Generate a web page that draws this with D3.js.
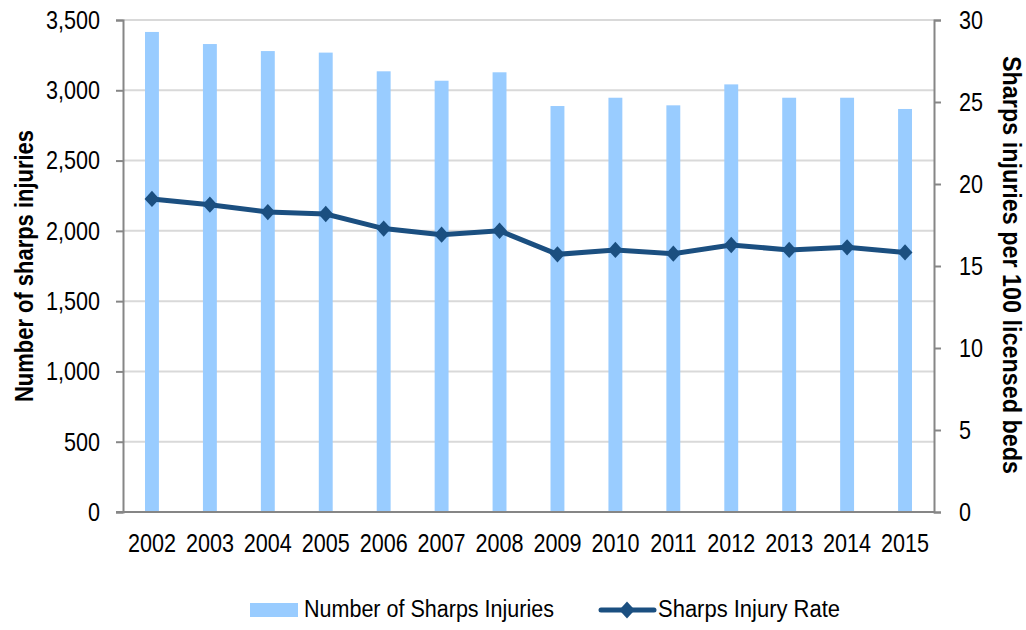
<!DOCTYPE html>
<html><head><meta charset="utf-8">
<script src="https://cdn.jsdelivr.net/npm/d3@7"></script>
<style>
body{margin:0;background:#fff;}
text{font-family:"Liberation Sans",Arial,sans-serif;fill:#000;}
</style></head><body>
<svg id="c" width="1026" height="630"></svg>
<script>
const years = ["2002","2003","2004","2005","2006","2007","2008","2009","2010","2011","2012","2013","2014","2015"];
const injuries = [3415,3329,3279,3268,3135,3068,3128,2888,2947,2893,3042,2947,2947,2867];
const rates = [19.09,18.74,18.29,18.17,17.28,16.91,17.15,15.71,15.98,15.75,16.28,15.98,16.14,15.83];
const leftTicks = [0,500,1000,1500,2000,2500,3000,3500];
const rightTicks = [0,5,10,15,20,25,30];

const svg = d3.select("#c");
const L = 123, R = 934, T = 20, B = 512;
const K = 0.83; // horizontal condensing to mimic a narrow face
const x = d3.scaleBand().domain(years).range([L, R]).paddingInner(0.76).paddingOuter(0.38);
const yL = d3.scaleLinear().domain([0,3500]).range([B,T]);
const yR = d3.scaleLinear().domain([0,30]).range([B,T]);

function condense(sel, k) {
  sel.each(function(){
    const t = d3.select(this);
    const xv = +t.attr("x") || 0;
    t.attr("x", xv / k).attr("transform", `scale(${k},1)`);
  });
}

// gridlines
svg.append("g").selectAll("line").data(leftTicks.slice(1)).join("line")
  .attr("x1",L).attr("x2",R).attr("y1",d=>yL(d)).attr("y2",d=>yL(d))
  .attr("stroke","#d9d9d9").attr("stroke-width",2);

// bars
svg.append("g").selectAll("rect").data(years).join("rect")
  .attr("x",d=>x(d)).attr("width",x.bandwidth())
  .attr("y",(d,i)=>yL(injuries[i])).attr("height",(d,i)=>B-yL(injuries[i]))
  .attr("fill","#99ccff");

// axes
const axL = svg.append("g").attr("transform",`translate(${L},0)`)
  .call(d3.axisLeft(yL).tickValues(leftTicks).tickFormat(d3.format(",")).tickSize(7).tickPadding(16));
const axR = svg.append("g").attr("transform",`translate(${R},0)`)
  .call(d3.axisRight(yR).tickValues(rightTicks).tickSize(7).tickPadding(18));
const axX = svg.append("g").attr("transform",`translate(0,${B})`)
  .call(d3.axisBottom(x).tickSize(0).tickPadding(22));
[axL,axR,axX].forEach(a=>{
  a.select(".domain").attr("stroke","#868686").attr("stroke-width",2);
  a.selectAll(".tick line").attr("stroke","#868686").attr("stroke-width",2);
  a.selectAll("text").style("font-size","26px").attr("fill","#000");
});
axX.select(".domain").attr("d",`M${L-7},0H${R}`);
condense(axL.selectAll(".tick text"), K);
condense(axR.selectAll(".tick text"), K);
axX.selectAll(".tick text").each(function(){
  const t = d3.select(this);
  const p = d3.select(this.parentNode).attr("transform");
  t.attr("transform", `scale(${K},1)`);
});

// line
const cx = d => x(d)+x.bandwidth()/2;
svg.append("path").datum(rates)
  .attr("d",d3.line().x((d,i)=>cx(years[i])).y(d=>yR(d)))
  .attr("fill","none").attr("stroke","#1b4f80").attr("stroke-width",5);
const diamondType = {draw(ctx, size){ const w = Math.sqrt(size)/2, h = w*1.1;
  ctx.moveTo(0,-h); ctx.lineTo(w,0); ctx.lineTo(0,h); ctx.lineTo(-w,0); ctx.closePath(); }};
const diamond = d3.symbol().type(diamondType).size(220);
svg.append("g").selectAll("path").data(rates).join("path")
  .attr("d",diamond).attr("transform",(d,i)=>`translate(${cx(years[i])},${yR(d)})`)
  .attr("fill","#1b4f80");

// axis titles
svg.append("text").attr("transform",`translate(33,266) rotate(-90)`)
  .attr("text-anchor","middle").style("font-size","25px").style("font-weight","bold")
  .attr("textLength",272).attr("lengthAdjust","spacingAndGlyphs")
  .text("Number of sharps injuries");
svg.append("text").attr("transform",`translate(1003,265) rotate(90)`)
  .attr("text-anchor","middle").style("font-size","25px").style("font-weight","bold")
  .attr("textLength",418).attr("lengthAdjust","spacingAndGlyphs")
  .text("Sharps injuries per 100 licensed beds");

// legend
const lg = svg.append("g");
lg.append("rect").attr("x",250).attr("y",603).attr("width",48).attr("height",14).attr("fill","#99ccff");
lg.append("text").attr("x",304).attr("y",617).style("font-size","23px")
  .attr("textLength",250).attr("lengthAdjust","spacingAndGlyphs").text("Number of Sharps Injuries");
lg.append("line").attr("x1",601).attr("x2",654).attr("y1",610).attr("y2",610).attr("stroke","#1b4f80").attr("stroke-width",5).attr("stroke-linecap","round");
lg.append("path").attr("d",d3.symbol().type(diamondType).size(240)).attr("transform","translate(627,610)").attr("fill","#1b4f80");
lg.append("text").attr("x",658).attr("y",617).style("font-size","23px")
  .attr("textLength",182).attr("lengthAdjust","spacingAndGlyphs").text("Sharps Injury Rate");
</script>
</body></html>
